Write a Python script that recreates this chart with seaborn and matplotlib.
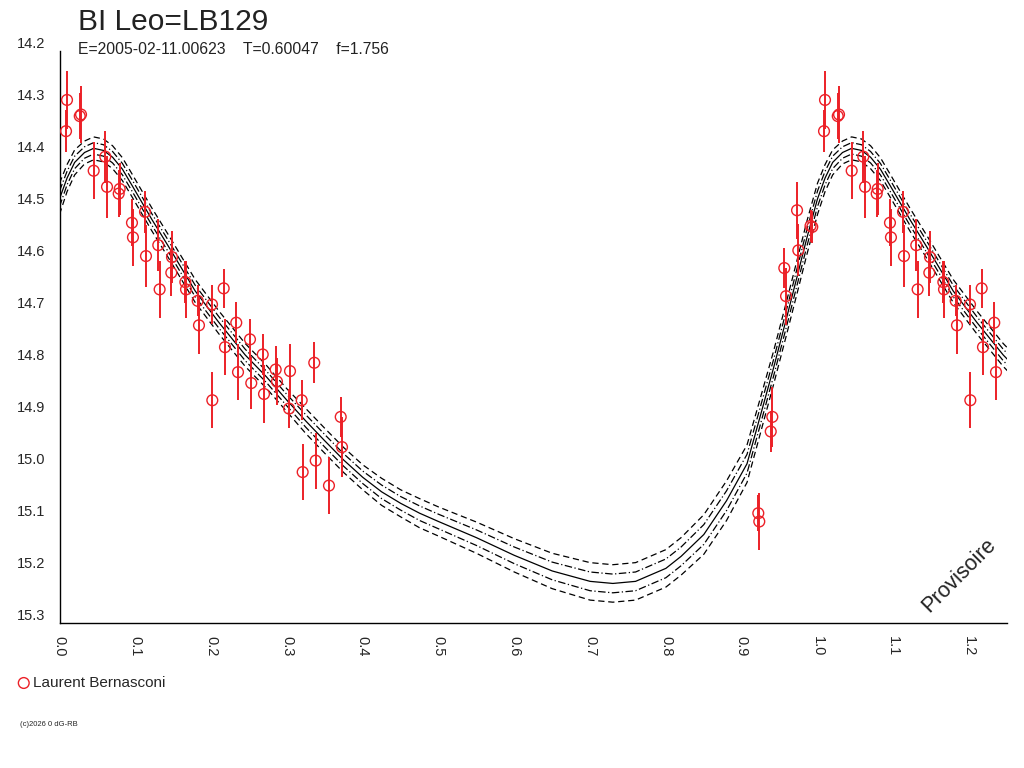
import numpy as np
import pandas as pd
import seaborn as sns
import matplotlib.pyplot as plt

# Observations (phase, magnitude, error)
obs_phase = [0.0086, 0.0099, 0.0267, 0.0284, 0.0451, 0.0604, 0.0627, 0.0781, 0.0794,
             0.0956, 0.0969, 0.1128, 0.1141, 0.1303, 0.1321, 0.1475, 0.1484, 0.1660,
             0.1669, 0.1823, 0.1840, 0.2012, 0.2016, 0.2166, 0.2183, 0.2332, 0.2355,
             0.2513, 0.2530, 0.2681, 0.2698, 0.2852, 0.2869, 0.3041, 0.3028, 0.3195,
             0.3208, 0.3361, 0.3380, 0.3555, 0.3710, 0.3727,
             0.9219, 0.9232, 0.9383, 0.9404, 0.9562, 0.9585, 0.9730, 0.9747, 0.9908, 0.9931]
obs_mag = [14.355, 14.295, 14.326, 14.323, 14.431, 14.404, 14.462, 14.475, 14.466,
           14.531, 14.559, 14.510, 14.595, 14.574, 14.659, 14.627, 14.597, 14.645,
           14.659, 14.681, 14.728, 14.688, 14.872, 14.657, 14.770, 14.723, 14.818,
           14.755, 14.839, 14.784, 14.860, 14.813, 14.836, 14.816, 14.888, 14.872,
           15.010, 14.800, 14.988, 15.036, 14.904, 14.962,
           15.089, 15.105, 14.932, 14.904, 14.618, 14.672, 14.507, 14.584, 14.537, 14.539]
obs_err = [0.040, 0.055, 0.045, 0.055, 0.055, 0.050, 0.060, 0.045, 0.050,
           0.045, 0.055, 0.040, 0.060, 0.050, 0.055, 0.045, 0.050, 0.040,
           0.055, 0.030, 0.055, 0.038, 0.054, 0.038, 0.054, 0.039, 0.054,
           0.040, 0.050, 0.040, 0.055, 0.045, 0.045, 0.052, 0.038, 0.038,
           0.054, 0.039, 0.054, 0.054, 0.038, 0.058,
           0.035, 0.055, 0.040, 0.057, 0.038, 0.055, 0.055, 0.050, 0.030, 0.030]

# Fitted light curve (solid) and its 1-sigma half width
fit_phase = [0.000, 0.010, 0.020, 0.033, 0.045, 0.058, 0.070, 0.083, 0.096, 0.122,
             0.144, 0.179, 0.210, 0.245, 0.273, 0.300, 0.325, 0.350, 0.375, 0.400,
             0.425, 0.450, 0.475, 0.500, 0.550, 0.600, 0.650, 0.700, 0.730, 0.760,
             0.800, 0.820, 0.850, 0.880, 0.907, 0.924, 0.942, 0.959, 0.973, 0.986, 1.000]
fit_mag = [14.485, 14.445, 14.415, 14.396, 14.388, 14.392, 14.405, 14.428, 14.460, 14.525,
           14.577, 14.662, 14.722, 14.785, 14.827, 14.872, 14.912, 14.950, 14.987, 15.020,
           15.048, 15.070, 15.089, 15.105, 15.136, 15.170, 15.200, 15.220, 15.224, 15.220,
           15.195, 15.172, 15.130, 15.065, 14.994, 14.905, 14.810, 14.715, 14.635, 14.560,
           14.485]
fit_sigma = [0.015, 0.013, 0.012, 0.011, 0.011, 0.011, 0.011, 0.011, 0.011, 0.011,
             0.011, 0.011, 0.011, 0.011, 0.011, 0.011, 0.012, 0.012, 0.012, 0.012,
             0.013, 0.013, 0.014, 0.014, 0.015, 0.016, 0.017, 0.018, 0.018, 0.018,
             0.018, 0.018, 0.019, 0.019, 0.018, 0.017, 0.016, 0.016, 0.016, 0.016,
             0.015]

y_ticks = [14.2, 14.3, 14.4, 14.5, 14.6, 14.7, 14.8, 14.9, 15.0, 15.1, 15.2, 15.3]
x_ticks = [0.0, 0.1, 0.2, 0.3, 0.4, 0.5, 0.6, 0.7, 0.8, 0.9, 1.0, 1.1, 1.2]

sns.set_style("white")
plt.rcParams['font.family'] = ['Liberation Sans', 'DejaVu Sans']

red = '#ec2027'
xmax = 1.25

# repeat first part of the cycle after phase 1
obs = pd.DataFrame({'phase': obs_phase, 'mag': obs_mag, 'err': obs_err})
rep = obs[obs.phase + 1 <= xmax].copy()
rep['phase'] += 1
obs = pd.concat([obs, rep], ignore_index=True)

fit = pd.DataFrame({'phase': fit_phase, 'mag': fit_mag, 'sig': fit_sigma})
fit_rep = fit[(fit.phase > 0) & (fit.phase <= xmax - 1 + 0.05)].copy()
fit_rep['phase'] += 1
fit = pd.concat([fit, fit_rep], ignore_index=True)

fig = plt.figure(figsize=(10.24, 7.68), dpi=100)
ax = fig.add_axes([59.5 / 1024, 1 - 623 / 768, (1007 - 59.5) / 1024, (623 - 50.5) / 768])

for k, ls in [(-2, (0, (5, 3))), (-1, (0, (6, 2, 1, 2))), (0, '-'), (1, (0, (6, 2, 1, 2))), (2, (0, (5, 3)))]:
    sns.lineplot(x=fit.phase, y=fit.mag + k * fit.sig, ax=ax, color='black',
                 linewidth=0.9, linestyle=ls, estimator=None, sort=False)

ax.errorbar(obs.phase, obs.mag, yerr=obs.err, fmt='none', ecolor=red, elinewidth=1.4, capsize=0)
sns.scatterplot(data=obs, x='phase', y='mag', ax=ax, marker='o', s=60,
                facecolor='none', edgecolor=red, linewidth=1, label='Laurent Bernasconi', zorder=3)

ax.set_xlim(0, xmax)
ax.set_ylim(15.3, 14.2)
ax.set_xticks(x_ticks)
ax.set_xticks(np.arange(0.05, xmax + 0.001, 0.1), minor=True)
ax.set_xticklabels([f'{v:.1f}' for v in x_ticks], rotation=270, fontsize=10.5)
ax.set_yticks(y_ticks)
ax.set_yticklabels([f'{v:.1f}' for v in y_ticks], fontsize=10.5)
for lab in ax.get_yticklabels():
    lab.set_va('bottom')
ax.tick_params(axis='x', which='both', direction='out', length=9, width=1, color='black', pad=0)
ax.tick_params(axis='y', direction='out', length=10, width=1, color='black', pad=0)
ax.set_xlabel('')
ax.set_ylabel('')
for s in ['top', 'right']:
    ax.spines[s].set_visible(False)
for s in ['left', 'bottom']:
    ax.spines[s].set_color('black')
    ax.spines[s].set_linewidth(1)

ax.legend(loc='center left', bbox_to_anchor=(10 / 1024, 1 - 683 / 768), bbox_transform=fig.transFigure,
          frameon=False, handletextpad=0.1, borderaxespad=0, handlelength=1.0, fontsize=11)

fig.text(78 / 1024, 1 - 29.5 / 768, 'BI Leo=LB129', fontsize=21.5, va='baseline', ha='left', color='#222222')
fig.text(78 / 1024, 1 - 54 / 768, 'E=2005-02-11.00623    T=0.60047    f=1.756', fontsize=11.3,
         va='baseline', ha='left', color='#222222')
fig.text(959 / 1024, 1 - 575 / 768, 'Provisoire', fontsize=15.5, rotation=45, ha='center', va='center',
         color='#222222')
fig.text(20 / 1024, 1 - 724 / 768, '(c)2026 0 dG-RB', fontsize=5.5, va='center', ha='left')

fig.savefig('out.png', dpi=100)
